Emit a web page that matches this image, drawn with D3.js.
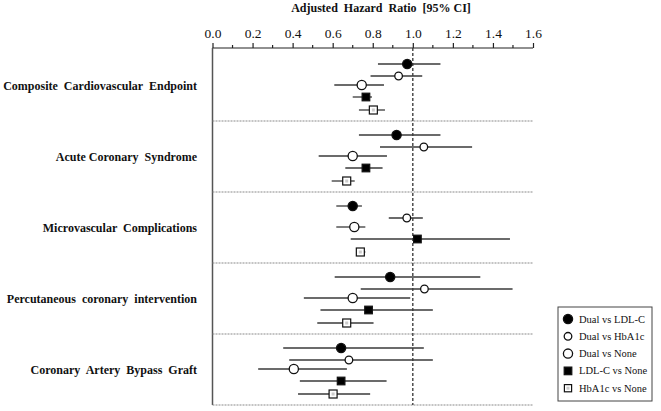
<!DOCTYPE html>
<html>
<head>
<meta charset="utf-8">
<script src="https://cdn.jsdelivr.net/npm/d3@7"></script>
<style>
  body { margin: 0; background: #fff; }
  svg { display: block; }
  text { font-family: "Liberation Serif", "Times New Roman", serif; fill: #111; }
</style>
</head>
<body>
<svg id="chart" width="661" height="411"></svg>
<script>
// ---------- data ----------
const outcomes = [
  "Composite  Cardiovascular  Endpoint",
  "Acute Coronary  Syndrome",
  "Microvascular  Complications",
  "Percutaneous  coronary  intervention",
  "Coronary  Artery  Bypass  Graft"
];
const comparisons = ["Dual vs LDL-C", "Dual vs HbA1c", "Dual vs None", "LDL-C vs None", "HbA1c vs None"];

const hrDualLDL   = [0.972, 0.919, 0.700, 0.887, 0.642];
const loDualLDL   = [0.826, 0.731, 0.618, 0.610, 0.353];
const hiDualLDL   = [1.138, 1.138, 0.746, 1.337, 1.055];

const hrDualHbA1c = [0.929, 1.055, 0.970, 1.058, 0.681];
const loDualHbA1c = [0.789, 0.836, 0.880, 0.740, 0.383];
const hiDualHbA1c = [1.047, 1.296, 1.050, 1.498, 1.100];

const hrDualNone  = [0.745, 0.700, 0.708, 0.700, 0.406];
const loDualNone  = [0.608, 0.530, 0.618, 0.456, 0.228];
const hiDualNone  = [0.856, 0.871, 0.763, 0.987, 0.671];

const hrLDLNone   = [0.766, 0.766, 1.023, 0.779, 0.642];
const loLDLNone   = [0.700, 0.663, 0.690, 0.539, 0.436];
const hiLDLNone   = [0.796, 0.849, 1.485, 1.100, 0.869];

const hrHbNone    = [0.803, 0.670, 0.738, 0.670, 0.602];
const loHbNone    = [0.731, 0.595, 0.718, 0.523, 0.427];
const hiHbNone    = [0.861, 0.710, 0.763, 0.804, 0.787];

const xTicks = [0, 0.2, 0.4, 0.6, 0.8, 1.0, 1.2, 1.4, 1.6];
const title = "Adjusted  Hazard  Ratio  [95% CI]";

// ---------- layout / styles ----------
const series = [
  {name: comparisons[0], hr: hrDualLDL,   lo: loDualLDL,   hi: hiDualLDL,   shape: "circle", fill: "#000", r: 4.6},
  {name: comparisons[1], hr: hrDualHbA1c, lo: loDualHbA1c, hi: hiDualHbA1c, shape: "circle", fill: "#fff", r: 3.8},
  {name: comparisons[2], hr: hrDualNone,  lo: loDualNone,  hi: hiDualNone,  shape: "circle", fill: "#fff", r: 4.6},
  {name: comparisons[3], hr: hrLDLNone,   lo: loLDLNone,   hi: hiLDLNone,   shape: "square", fill: "#000", r: 3.8},
  {name: comparisons[4], hr: hrHbNone,    lo: loHbNone,    hi: hiHbNone,    shape: "square", fill: "#fff", r: 4}
];
const rowOffsets = [14, 26, 35, 47, 60];

const svg = d3.select("#chart");
const x = d3.scaleLinear().domain([0, 1.6]).range([212.5, 533]);
const yGroup = d3.scaleBand().domain(outcomes).range([50, 405]).paddingInner(0).paddingOuter(0);
const axisY = 48;
const bottomY = 405;

// title
svg.append("text").attr("x", 381).attr("y", 12).attr("text-anchor", "middle")
  .attr("font-size", 12).attr("font-weight", "bold").style("white-space", "pre")
  .text(title);

// top axis
const axis = d3.axisTop(x).tickValues(xTicks).tickFormat(d3.format(".1f")).tickSize(5).tickPadding(5);
const gAx = svg.append("g").attr("transform", `translate(0,${axisY})`).call(axis);
gAx.select(".domain").attr("d", `M${x(0)},0H${x(1.6)}`).attr("stroke", "#222").attr("stroke-width", 1.2);
gAx.selectAll(".tick line").attr("stroke", "#222").attr("stroke-width", 1.2);
gAx.selectAll(".tick text").attr("font-size", 13.5).style("font-family", "Liberation Serif, serif").style("fill", "#111");
// minor ticks
const minor = d3.range(0.1, 1.6, 0.2);
gAx.selectAll(".minor").data(minor).join("line")
  .attr("x1", d => x(d)).attr("x2", d => x(d)).attr("y1", 0).attr("y2", -3)
  .attr("stroke", "#222").attr("stroke-width", 1.2);

// left vertical line
svg.append("line").attr("x1", x(0)).attr("x2", x(0)).attr("y1", axisY).attr("y2", bottomY)
  .attr("stroke", "#555").attr("stroke-width", 1.5);

// group separators
svg.selectAll(".sep").data(outcomes).join("line")
  .attr("x1", x(0)).attr("x2", x(1.6))
  .attr("y1", d => yGroup(d) + yGroup.bandwidth())
  .attr("y2", d => yGroup(d) + yGroup.bandwidth())
  .attr("stroke", "#8a8a8a").attr("stroke-width", 1.2).attr("stroke-dasharray", "2,1");

// reference line at 1.0
svg.append("line").attr("x1", x(1)).attr("x2", x(1)).attr("y1", axisY).attr("y2", bottomY)
  .attr("stroke", "#333").attr("stroke-width", 1.3).attr("stroke-dasharray", "3,2");

// group labels
svg.selectAll(".glabel").data(outcomes).join("text")
  .attr("x", 197).attr("y", d => yGroup(d) + yGroup.bandwidth() / 2 + 4)
  .attr("text-anchor", "end").attr("font-size", 12).attr("font-weight", "bold")
  .style("white-space", "pre")
  .text(d => d);

// CI lines and markers
series.forEach((s, si) => {
  const g = svg.append("g");
  outcomes.forEach((o, oi) => {
    const cy = yGroup(o) + rowOffsets[si];
    g.append("line").attr("x1", x(s.lo[oi])).attr("x2", x(s.hi[oi]))
      .attr("y1", cy).attr("y2", cy).attr("stroke", "#3a3a3a").attr("stroke-width", 1.3);
    drawMarker(g, s, x(s.hr[oi]), cy, 1);
  });
});

function drawMarker(g, s, cx, cy, k) {
  if (s.shape === "circle") {
    g.append("circle").attr("cx", cx).attr("cy", cy).attr("r", s.r * k)
      .attr("fill", s.fill).attr("stroke", "#111").attr("stroke-width", 1.3);
  } else {
    const h = s.r * k;
    g.append("rect").attr("x", cx - h).attr("y", cy - h).attr("width", 2 * h).attr("height", 2 * h)
      .attr("fill", s.fill).attr("stroke", "#111").attr("stroke-width", 1.2);
    if (s.fill === "#fff") {
      g.append("rect").attr("x", cx - 1.5).attr("y", cy - 1.5).attr("width", 3).attr("height", 3)
        .attr("fill", "#ccc");
    }
  }
}

// legend
const lg = svg.append("g");
lg.append("rect").attr("x", 558).attr("y", 307).attr("width", 94).attr("height", 94)
  .attr("fill", "#fff").attr("stroke", "#444").attr("stroke-width", 1);
const legendK = [1, 1, 1, 1, 0.9];
series.forEach((s, i) => {
  const cy = 319 + i * 17.3;
  drawMarker(lg, s, 568, cy, legendK[i]);
  lg.append("text").attr("x", 579).attr("y", cy + 3.5).attr("font-size", 10.5).text(s.name);
});
</script>
</body>
</html>
